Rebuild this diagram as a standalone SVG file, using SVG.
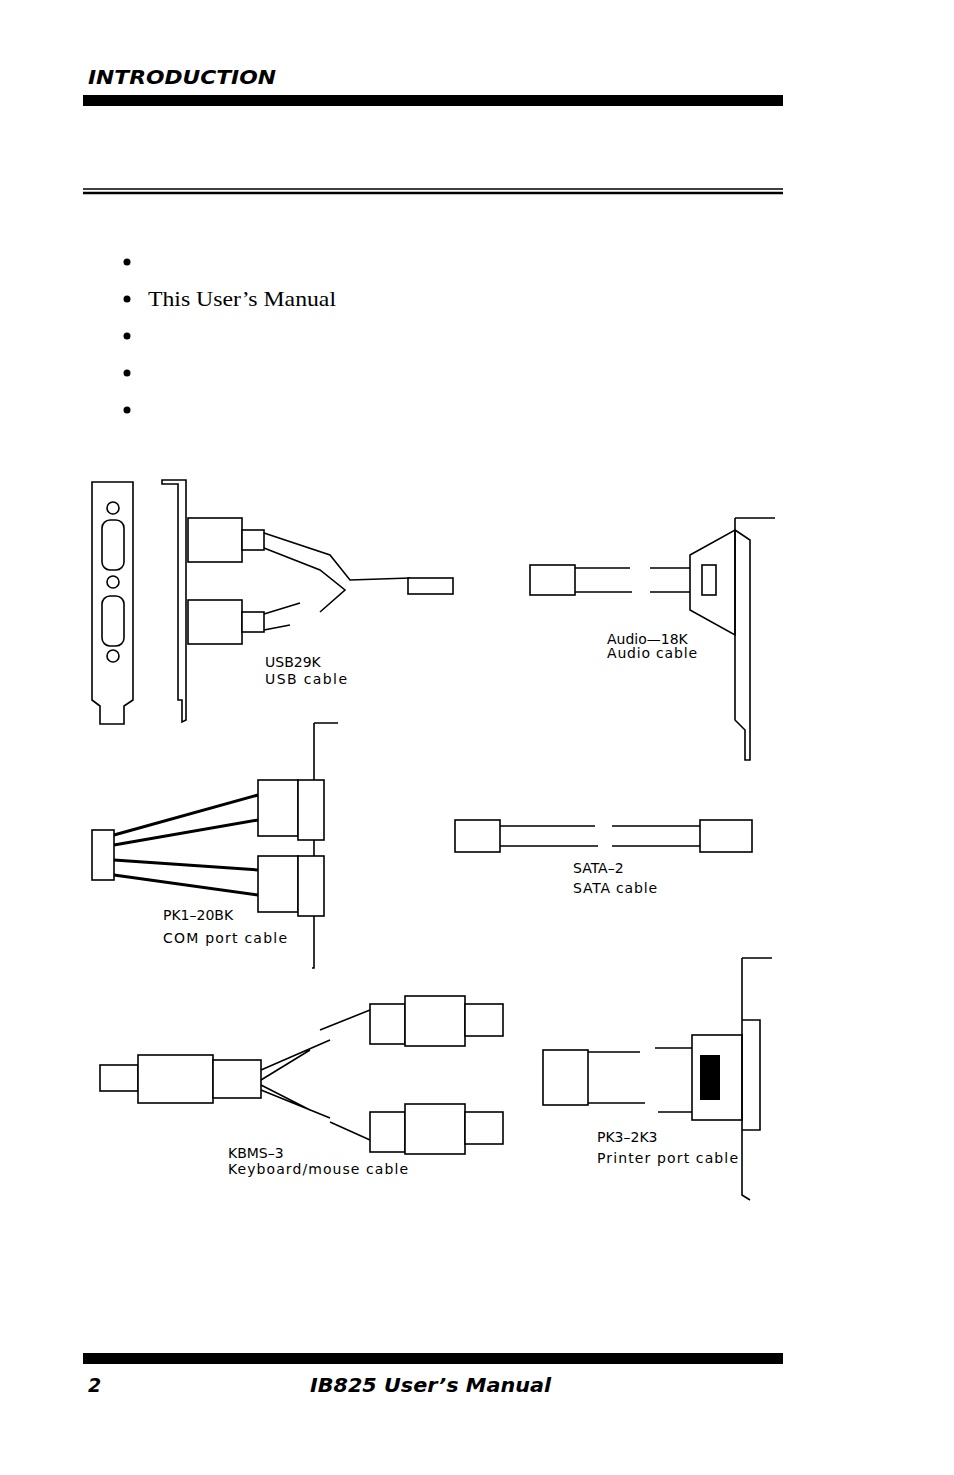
<svg xmlns="http://www.w3.org/2000/svg" width="954" height="1475" viewBox="0 0 954 1475">
<style>
.h{font-family:"DejaVu Sans",Verdana,sans-serif;font-weight:bold;font-style:italic;fill:#000}
.s{font-family:"Liberation Serif","Times New Roman",serif;font-size:22px;fill:#000}
.c{font-family:"DejaVu Sans",sans-serif;font-size:14px;fill:#000}
.l{fill:none;stroke:#000;stroke-width:1.6}
.w{fill:#fff;stroke:#000;stroke-width:1.6}
</style>
<rect width="954" height="1475" fill="#fff"/>
<g id="header">
<text class="h" x="88" y="84" font-size="19" textLength="188" lengthAdjust="spacingAndGlyphs">INTRODUCTION</text>
<rect x="83" y="95" width="700" height="11" fill="#000"/>
<line x1="83" y1="189" x2="783" y2="189" stroke="#000" stroke-width="1.5"/>
<line x1="83" y1="193" x2="783" y2="193" stroke="#000" stroke-width="2.5"/>
</g>
<g id="bullets">
<circle cx="127" cy="262" r="3.5"/><circle cx="127" cy="299" r="3.5"/><circle cx="127" cy="336" r="3.5"/><circle cx="127" cy="373" r="3.5"/><circle cx="127" cy="410" r="3.5"/>
<text class="s" x="148" y="306" textLength="188" lengthAdjust="spacingAndGlyphs">This User’s Manual</text>
</g>
<g id="usb">
<path class="l" d="M92 482H133V700L124 706V724H100V706L92 700Z"/>
<rect class="w" x="102" y="520" width="22" height="50" rx="8"/><rect class="w" x="102" y="596" width="22" height="50" rx="8"/>
<circle class="l" cx="113" cy="508" r="6"/><circle class="l" cx="113" cy="582" r="6"/><circle class="l" cx="113" cy="656" r="6"/>
<path class="l" d="M162 480H186V720L182 722V700H178V484H162Z"/>
<rect class="w" x="188" y="518" width="54" height="44"/><rect class="w" x="188" y="600" width="54" height="44"/>
<rect class="w" x="242" y="530" width="22" height="20"/><rect class="w" x="242" y="612" width="22" height="20"/>
<path class="l" d="M264 533L330 555L350 580L410 578M264 548L320 570L345 590L320 612M264 614L300 603M264 630L290 625"/>
<rect class="w" x="408" y="578" width="45" height="16"/>
<text class="c" x="265" y="667">USB29K</text><text class="c" x="265" y="684" textLength="82">USB  cable</text>
</g>
<g id="audio">
<rect class="w" x="530" y="565" width="45" height="30"/>
<path class="l" d="M575 568H630M575 592H632M650 568H690M650 592H690"/>
<path class="w" d="M690 555L735 530V635L690 610Z"/>
<rect class="w" x="702" y="565" width="14" height="30"/>
<path class="l" d="M735 518H775M735 518V720L745 730V760H750V540L735 530"/>
<text class="c" x="607" y="644">Audio—18K</text><text class="c" x="607" y="658" textLength="90">Audio  cable</text>
</g>
<g id="com">
<path class="l" d="M314 723H338M314 723V968L312 968"/>
<rect class="w" x="258" y="780" width="40" height="56"/><rect class="w" x="258" y="856" width="40" height="56"/>
<rect class="w" x="298" y="780" width="26" height="60"/><rect class="w" x="298" y="856" width="26" height="60"/>
<rect class="w" x="92" y="830" width="22" height="50"/>
<path d="M114 835L258 795M114 845L258 820M114 860L258 870M114 875L258 895" stroke="#000" stroke-width="3" fill="none"/>
<text class="c" x="163" y="920">PK1–20BK</text><text class="c" x="163" y="943" textLength="124">COM  port  cable</text>
</g>
<g id="sata">
<rect class="w" x="455" y="820" width="45" height="32"/>
<path class="l" d="M500 826H595M500 846H598M612 826H700M612 846H700"/>
<rect class="w" x="700" y="820" width="52" height="32"/>
<text class="c" x="573" y="873">SATA–2</text><text class="c" x="573" y="893" textLength="84">SATA  cable</text>
</g>
<g id="kbms">
<rect class="w" x="100" y="1065" width="38" height="26"/>
<rect class="w" x="138" y="1055" width="75" height="48"/><rect class="w" x="213" y="1060" width="48" height="38"/>
<path class="l" d="M261 1070L330 1040M261 1090L330 1118M261 1080L310 1050M261 1085L310 1110"/>
<rect class="w" x="370" y="1004" width="35" height="40"/><rect class="w" x="405" y="996" width="60" height="50"/><rect class="w" x="465" y="1004" width="38" height="32"/>
<rect class="w" x="370" y="1112" width="35" height="40"/><rect class="w" x="405" y="1104" width="60" height="50"/><rect class="w" x="465" y="1112" width="38" height="32"/>
<path class="l" d="M320 1030L370 1010M330 1122L370 1140"/>
<text class="c" x="228" y="1158">KBMS–3</text><text class="c" x="228" y="1174" textLength="180">Keyboard/mouse  cable</text>
</g>
<g id="printer">
<rect class="w" x="543" y="1050" width="45" height="55"/>
<path class="l" d="M588 1052H640M588 1103H645M655 1048H692M658 1112H692"/>
<rect class="w" x="692" y="1035" width="50" height="85"/>
<rect x="700" y="1055" width="20" height="45" fill="#000"/>
<path class="l" d="M742 958H772M742 958V1195L750 1200M742 1020H760V1130H742"/>
<text class="c" x="597" y="1142">PK3–2K3</text><text class="c" x="597" y="1163" textLength="141">Printer  port  cable</text>
</g>
<g id="footer">
<rect x="83" y="1353" width="700" height="11" fill="#000"/>
<text class="h" x="88" y="1392" font-size="19">2</text>
<text class="h" x="310" y="1392" font-size="19" textLength="241" lengthAdjust="spacingAndGlyphs">IB825 User’s Manual</text>
</g>
</svg>
